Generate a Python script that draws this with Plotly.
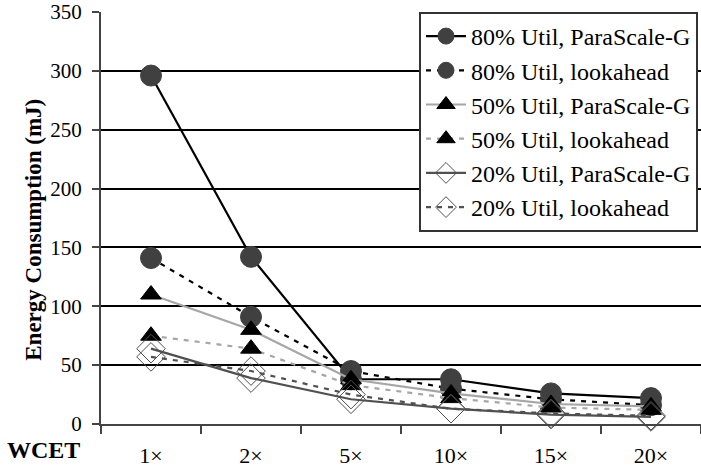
import plotly.graph_objects as go

categories = ["1×", "2×", "5×", "10×", "15×", "20×"]
u80_parascale = [296, 142, 38, 38, 26, 22]
u80_lookahead = [141, 91, 45, 30, 21, 16]
u50_parascale = [110, 80, 38, 26, 17, 15]
u50_lookahead = [75, 64, 33, 22, 14, 12]
u20_parascale = [64, 39, 21, 13, 8, 6]
u20_lookahead = [57, 45, 25, 13, 9, 7]
y_ticks = [0, 50, 100, 150, 200, 250, 300, 350]

FONT = "Liberation Serif, Times New Roman, serif"

series = [
    ("80% Util, ParaScale-G", u80_parascale, "#000000", "solid", "circle", "#404040", "#404040", 21),
    ("80% Util, lookahead", u80_lookahead, "#000000", "5px,6px", "circle", "#404040", "#404040", 21),
    ("50% Util, ParaScale-G", u50_parascale, "#a6a6a6", "solid", "triangle-up", "#000000", "#000000", 18),
    ("50% Util, lookahead", u50_lookahead, "#a6a6a6", "5px,6px", "triangle-up", "#000000", "#000000", 18),
    ("20% Util, ParaScale-G", u20_parascale, "#505050", "solid", "diamond-open", "#505050", "#505050", 22),
    ("20% Util, lookahead", u20_lookahead, "#505050", "5px,6px", "diamond-open", "#505050", "#505050", 22),
]

fig = go.Figure()
for i, (name, vals, lc, dash, sym, mfill, mline, msize) in enumerate(series):
    fig.add_trace(go.Scatter(
        x=categories, y=vals, name=name, mode="lines+markers",
        legendgroup=f"g{i}",
        line=dict(color=lc, width=2.2, dash=dash),
        marker=dict(symbol=sym, size=msize, color=mfill,
                    line=dict(color=mline, width=1)),
        cliponaxis=False,
    ))

fig.update_layout(
    width=701, height=468,
    margin=dict(l=101, r=0, t=12, b=44),
    paper_bgcolor="white", plot_bgcolor="white",
    font=dict(family=FONT, size=21, color="#000000"),
    showlegend=True,
    legend=dict(
        x=0.995, xanchor="right", y=1.0, yanchor="top",
        bgcolor="white", bordercolor="#333333", borderwidth=2,
        font=dict(family=FONT, size=24),
        tracegroupgap=0, itemwidth=40,
    ),
    xaxis=dict(
        type="category", tickson="boundaries", range=[-0.5, 5.5],
        ticks="outside", ticklen=8, tickcolor="#444444", tickwidth=1.5,
        showline=True, linecolor="#444444", linewidth=2,
        showgrid=False, zeroline=False,
        tickfont=dict(family=FONT, size=22),
        ticklabelstandoff=11,
    ),
    yaxis=dict(
        range=[0, 350], tickvals=y_ticks,
        ticks="outside", ticklen=7, tickcolor="#444444", tickwidth=1.5,
        showline=True, linecolor="#444444", linewidth=2,
        showgrid=True, gridcolor="#000000", gridwidth=1.5,
        zeroline=False,
        tickfont=dict(family=FONT, size=21),
        ticklabelstandoff=6,
    ),
    annotations=[
        dict(text="<b>WCET</b>", x=-0.096, y=-0.063, xref="paper", yref="paper",
             xanchor="center", yanchor="middle", showarrow=False,
             font=dict(family=FONT, size=24)),
        dict(text="<b>Energy Consumption (mJ)</b>", x=-0.113, y=0.472,
             xref="paper", yref="paper", xanchor="center", yanchor="middle",
             textangle=-90, showarrow=False, font=dict(family=FONT, size=23)),
    ],
)

fig.write_html("out.html", config={"displayModeBar": False},
               post_script="document.body.style.margin='0px';")
